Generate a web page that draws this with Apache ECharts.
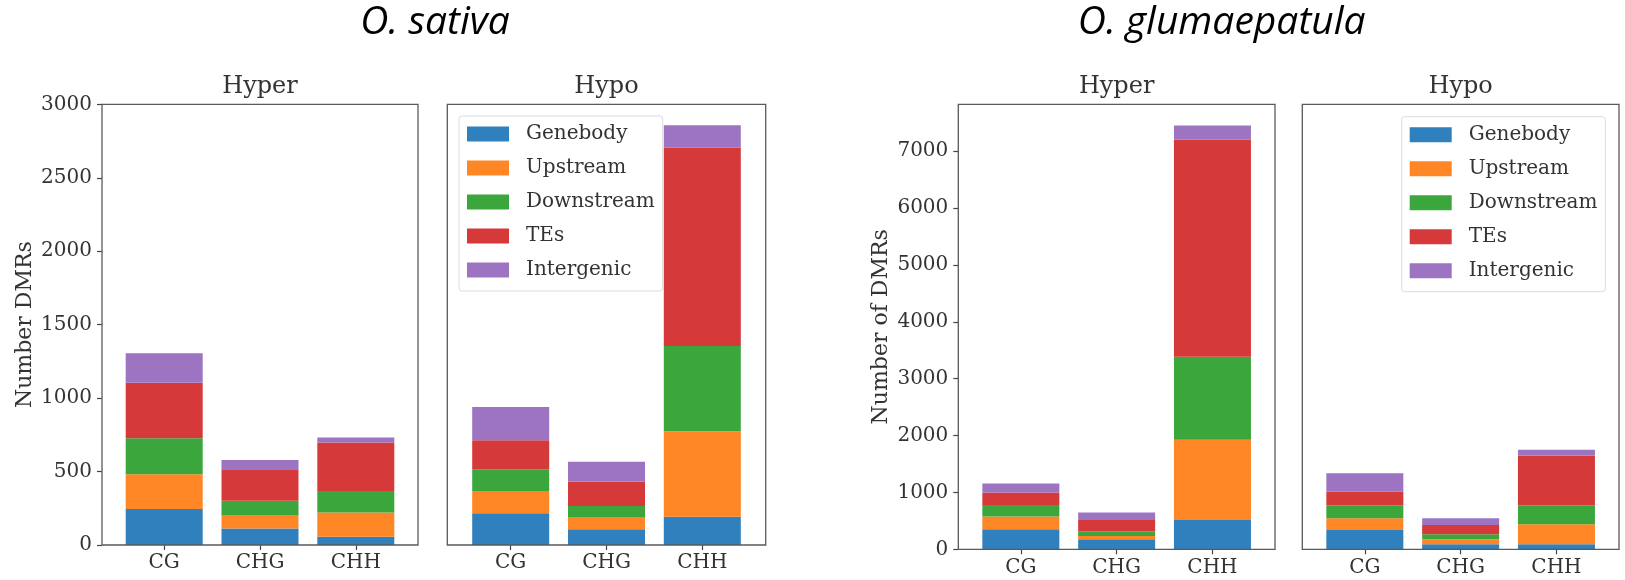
<!DOCTYPE html>
<html>
<head>
<meta charset="utf-8">
<script src="https://cdn.jsdelivr.net/npm/echarts@6/dist/echarts.min.js"></script>
<style>
  html, body { margin: 0; padding: 0; background: #fff; }
  #chart { width: 1625px; height: 580px; }
</style>
</head>
<body>
<div id="chart"></div>
<script>
// ---------- data ----------
const categories = ['CG', 'CHG', 'CHH'];
const regions = ['Genebody', 'Upstream', 'Downstream', 'TEs', 'Intergenic'];
const panelTitles = ['Hyper', 'Hypo', 'Hyper', 'Hypo'];
const speciesTitles = ['O. sativa', 'O. glumaepatula'];
const yNames = ['Number DMRs', 'Number of DMRs'];

// rows: Genebody, Upstream, Downstream, TEs, Intergenic ; columns: CG, CHG, CHH
const sativaHyper = [
  [245, 113, 57],
  [236, 91, 165],
  [245, 98, 146],
  [379, 213, 329],
  [200, 64, 34]
];
const sativaHypo = [
  [216, 107, 193],
  [152, 84, 581],
  [147, 74, 581],
  [198, 168, 1350],
  [226, 134, 152]
];
const glumHyper = [
  [352, 176, 516],
  [223, 59, 1409],
  [205, 76, 1461],
  [217, 205, 3819],
  [159, 129, 247]
];
const glumHypo = [
  [340, 88, 88],
  [206, 88, 352],
  [223, 88, 329],
  [246, 164, 880],
  [323, 118, 100]
];

const sativaTicks = [0, 500, 1000, 1500, 2000, 2500, 3000];
const glumTicks = [0, 1000, 2000, 3000, 4000, 5000, 6000, 7000];
const sativaMax = 3000;
const glumMax = 7825;

// ---------- layout ----------
const colors = ['#2f80bd', '#ff8624', '#3aa63c', '#d6393a', '#9d74c2'];
const serif = 'DejaVu Serif';
const textColor = '#333';
const frames = [
  { left: 102, right: 418, top: 104.3, bottom: 545 },
  { left: 447.3, right: 765.7, top: 104.3, bottom: 545 },
  { left: 958.3, right: 1275, top: 104.3, bottom: 549.3 },
  { left: 1302.3, right: 1619, top: 104.3, bottom: 549.3 }
];
const panelData = [sativaHyper, sativaHypo, glumHyper, glumHypo];
const panelMax = [sativaMax, sativaMax, glumMax, glumMax];
const panelTicks = [sativaTicks, sativaTicks, glumTicks, glumTicks];
const bandWidth = 95.8;

const grid = [], xAxis = [], yAxis = [], series = [];
frames.forEach((f, i) => {
  grid.push({
    left: f.left, top: f.top, width: f.right - f.left, height: f.bottom - f.top,
    show: true, borderColor: '#5a5a5a', borderWidth: 1.3, backgroundColor: 'transparent', z: 5
  });
});
frames.forEach((f, i) => {
  const w = bandWidth * categories.length;
  const inset = ((f.right - f.left) - w) / 2;
  grid.push({
    left: f.left + inset, top: f.top, width: w, height: f.bottom - f.top
  });
});
frames.forEach((f, i) => {
  const first = (i % 2 === 0);
  xAxis.push({ gridIndex: i, type: 'value', show: false, min: 0, max: 1 });
  yAxis.push({
    gridIndex: i, type: 'value', min: 0, max: panelMax[i],
    interval: i < 2 ? 500 : 1000,
    axisLine: { show: false },
    splitLine: { show: false },
    axisTick: { show: first, length: 5, customValues: panelTicks[i], lineStyle: { color: '#444', width: 1.2 } },
    axisLabel: { show: first, customValues: panelTicks[i], showMaxLabel: true, showMinLabel: true, margin: 10,
      formatter: v => String(v),
      fontFamily: serif, fontSize: 20, color: textColor },
    name: first ? yNames[i / 2] : '',
    nameLocation: 'middle', nameGap: 66, nameRotate: 90,
    nameTextStyle: { fontFamily: serif, fontSize: 22, color: textColor }
  });
});
frames.forEach((f, i) => {
  xAxis.push({
    gridIndex: 4 + i, type: 'category', data: categories,
    axisLine: { show: false },
    axisTick: { show: true, alignWithLabel: true, length: 5, lineStyle: { color: '#444', width: 1.2 } },
    axisLabel: { fontFamily: serif, fontSize: 20, color: textColor, margin: 8 },
    splitLine: { show: false }
  });
  yAxis.push({ gridIndex: 4 + i, type: 'value', min: 0, max: panelMax[i], show: false });
  regions.forEach((r, k) => {
    series.push({
      type: 'bar', name: r, stack: 'p' + i,
      xAxisIndex: 4 + i, yAxisIndex: 4 + i,
      barWidth: 77,
      data: panelData[i][k],
      itemStyle: { color: colors[k] },
      emphasis: { disabled: true },
      silent: true
    });
  });
});

const legendCommon = {
  orient: 'vertical', data: regions, icon: 'rect', selectedMode: false,
  itemWidth: 42, itemHeight: 15, itemGap: 14,
  padding: [8, 8, 11, 8],
  borderColor: '#dcdcdc', borderWidth: 1, borderRadius: 3,
  backgroundColor: 'rgba(255,255,255,0.85)',
  textStyle: { fontFamily: serif, fontSize: 20, color: textColor, lineHeight: 20, padding: [0, 0, 0, 12] }
};
const legend = [
  Object.assign({}, legendCommon, { left: 459, top: 116 }),
  Object.assign({}, legendCommon, { left: 1401.7, top: 116.7 })
];

const graphic = [];
frames.forEach((f, i) => {
  graphic.push({
    type: 'text', x: (f.left + f.right) / 2, y: 87,
    style: { text: panelTitles[i], align: 'center', verticalAlign: 'middle',
      fontFamily: serif, fontSize: 24, fill: textColor }
  });
});
graphic.push({
  type: 'text', x: 435, y: 23,
  style: { text: speciesTitles[0], align: 'center', verticalAlign: 'middle',
    fontFamily: 'Open Sans', fontStyle: 'italic', fontSize: 39, fill: '#000' }
});
graphic.push({
  type: 'text', x: 1221.7, y: 23,
  style: { text: speciesTitles[1], align: 'center', verticalAlign: 'middle',
    fontFamily: 'Open Sans', fontStyle: 'italic', fontSize: 39, fill: '#000' }
});

const chart = echarts.init(document.getElementById('chart'), null, { renderer: 'canvas' });
chart.setOption({
  animation: false,
  backgroundColor: '#fff',
  color: colors,
  grid, xAxis, yAxis, series, legend, graphic
});
</script>
</body>
</html>
